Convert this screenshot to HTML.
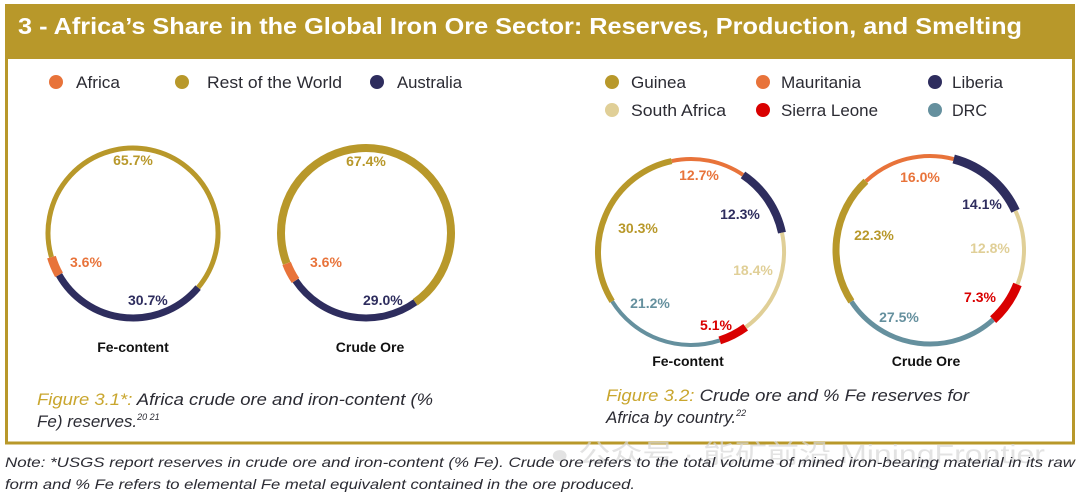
<!DOCTYPE html>
<html><head><meta charset="utf-8"><style>
body{margin:0;background:#fff;width:1080px;height:497px;overflow:hidden}
svg{display:block}
text{font-family:"Liberation Sans","Noto Sans CJK SC",sans-serif}
</style></head><body>
<svg width="1080" height="497" viewBox="0 0 1080 497">
<rect x="0" y="0" width="1080" height="497" fill="#fff"/>
<rect x="6.5" y="6" width="1067" height="437" fill="none" stroke="#b8982a" stroke-width="3"/>
<rect x="5" y="4" width="1070" height="55" fill="#b8982a"/>
<text x="18" y="34" font-size="23" font-weight="bold" fill="#fff" textLength="1004" lengthAdjust="spacingAndGlyphs">3 - Africa’s Share in the Global Iron Ore Sector: Reserves, Production, and Smelting</text>

<g font-size="17" fill="#2b2b33">
<circle cx="56" cy="82" r="7" fill="#e8733a"/><text x="76" y="88" textLength="44" lengthAdjust="spacingAndGlyphs">Africa</text>
<circle cx="182" cy="82" r="7" fill="#b8982a"/><text x="207" y="88" textLength="135" lengthAdjust="spacingAndGlyphs">Rest of the World</text>
<circle cx="377" cy="82" r="7" fill="#2e2d5e"/><text x="397" y="88" textLength="65" lengthAdjust="spacingAndGlyphs">Australia</text>
</g>
<g font-size="17" fill="#2b2b33">
<circle cx="612" cy="82" r="7" fill="#b8982a"/><text x="631" y="88" textLength="55" lengthAdjust="spacingAndGlyphs">Guinea</text>
<circle cx="612" cy="110" r="7" fill="#e0cf97"/><text x="631" y="116" textLength="95" lengthAdjust="spacingAndGlyphs">South Africa</text>
<circle cx="763" cy="82" r="7" fill="#e8733a"/><text x="781" y="88" textLength="80" lengthAdjust="spacingAndGlyphs">Mauritania</text>
<circle cx="763" cy="110" r="7" fill="#d90000"/><text x="781" y="116" textLength="97" lengthAdjust="spacingAndGlyphs">Sierra Leone</text>
<circle cx="935" cy="82" r="7" fill="#2e2d5e"/><text x="952" y="88" textLength="51" lengthAdjust="spacingAndGlyphs">Liberia</text>
<circle cx="935" cy="110" r="7" fill="#65909e"/><text x="952" y="116" textLength="35" lengthAdjust="spacingAndGlyphs">DRC</text>
</g>

<g id="d" fill="none"></g>

<g font-size="14" font-weight="bold">
<text x="133" y="165" fill="#b8982a" text-anchor="middle">65.7%</text>
<text x="70" y="267" fill="#e8733a">3.6%</text>
<text x="128" y="305" fill="#2e2d5e">30.7%</text>
<text x="366" y="166" fill="#b8982a" text-anchor="middle">67.4%</text>
<text x="310" y="267" fill="#e8733a">3.6%</text>
<text x="363" y="305" fill="#2e2d5e">29.0%</text>
<text x="133" y="352" fill="#111" text-anchor="middle">Fe-content</text>
<text x="370" y="352" fill="#111" text-anchor="middle">Crude Ore</text>

<text x="699" y="180" fill="#e8733a" text-anchor="middle">12.7%</text>
<text x="740" y="219" fill="#2e2d5e" text-anchor="middle">12.3%</text>
<text x="638" y="233" fill="#b8982a" text-anchor="middle">30.3%</text>
<text x="753" y="275" fill="#e0cf97" text-anchor="middle">18.4%</text>
<text x="650" y="308" fill="#65909e" text-anchor="middle">21.2%</text>
<text x="716" y="330" fill="#d90000" text-anchor="middle">5.1%</text>
<text x="688" y="366" fill="#111" text-anchor="middle">Fe-content</text>

<text x="920" y="182" fill="#e8733a" text-anchor="middle">16.0%</text>
<text x="982" y="209" fill="#2e2d5e" text-anchor="middle">14.1%</text>
<text x="874" y="240" fill="#b8982a" text-anchor="middle">22.3%</text>
<text x="990" y="253" fill="#e0cf97" text-anchor="middle">12.8%</text>
<text x="980" y="302" fill="#d90000" text-anchor="middle">7.3%</text>
<text x="899" y="322" fill="#65909e" text-anchor="middle">27.5%</text>
<text x="926" y="366" fill="#111" text-anchor="middle">Crude Ore</text>
</g>

<g font-size="17" font-style="italic" fill="#2b2b33">
<text x="37" y="405" textLength="396" lengthAdjust="spacingAndGlyphs"><tspan fill="#c9a62e">Figure 3.1*:</tspan> Africa crude ore and iron-content (%</text>
<text x="37" y="427">Fe) reserves.<tspan font-size="9" dy="-7">20 21</tspan></text>
<text x="606" y="401" textLength="363" lengthAdjust="spacingAndGlyphs"><tspan fill="#c9a62e">Figure 3.2:</tspan> Crude ore and % Fe reserves for</text>
<text x="606" y="423">Africa by country.<tspan font-size="9" dy="-7">22</tspan></text>
</g>
<text x="550" y="463" font-size="26" fill="#d8d8d8" opacity="0.7" textLength="495" lengthAdjust="spacingAndGlyphs">● 公众号 · 能矿前沿 MiningFrontier</text>
<g font-size="14" font-style="italic" fill="#2b2b33">
<text x="5" y="467" textLength="1070" lengthAdjust="spacingAndGlyphs">Note: *USGS report reserves in crude ore and iron-content (% Fe). Crude ore refers to the total volume of mined iron-bearing material in its raw</text>
<text x="5" y="489" textLength="630" lengthAdjust="spacingAndGlyphs">form and % Fe refers to elemental Fe metal equivalent contained in the ore produced.</text>
</g>
</svg>
<script>
function arc(cx,cy,r,a0,a1,col,w){
 const p=a=>[cx+r*Math.sin(a*Math.PI/180),cy-r*Math.cos(a*Math.PI/180)];
 const [x0,y0]=p(a0),[x1,y1]=p(a1);
 const large=(a1-a0)>180?1:0;
 const e=document.createElementNS("http://www.w3.org/2000/svg","path");
 e.setAttribute("d",`M${x0} ${y0} A${r} ${r} 0 ${large} 1 ${x1} ${y1}`);
 e.setAttribute("stroke",col);e.setAttribute("stroke-width",w);e.setAttribute("fill","none");
 document.getElementById("d").appendChild(e);
}
const G="#b8982a",O="#e8733a",N="#2e2d5e",T="#e0cf97",R="#d90000",D="#65909e";
arc(133,233,85,253.5,490,G,5);
arc(133,233,85,130,240.5,N,7);
arc(133,233,85,240.5,253.5,O,9);
arc(366,233,85,249,504.6,G,8);
arc(366,233,85,144.6,236,N,7);
arc(366,233,85,236,249,O,9);
arc(691,252,93,-12,34,O,4);
arc(691,252,93,34,78,N,8);
arc(691,252,93,78,144,T,4);
arc(691,252,93,144,162,R,8);
arc(691,252,93,162,238,D,4);
arc(691,252,93,238,348,G,6);
arc(930,250,94,-43,14.6,O,4);
arc(930,250,94,14.6,65.4,N,9);
arc(930,250,94,65.4,111.5,T,4);
arc(930,250,94,111.5,137.8,R,9);
arc(930,250,94,137.8,236.8,D,5);
arc(930,250,94,236.8,317,G,7);
</script>
</body></html>
